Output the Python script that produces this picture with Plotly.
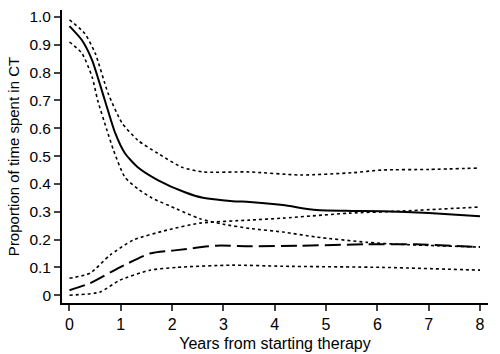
import plotly.graph_objects as go

# Proportion of time in CT (solid) with CI (dotted)
ct_years = [0.0, 0.24, 0.44, 0.69, 0.89, 1.08, 1.33, 1.72, 2.25, 2.6, 3.18, 3.51, 4.16, 4.81, 5.5, 6.1, 7.0, 8.0]
ct_mean = [0.967, 0.917, 0.845, 0.70, 0.583, 0.51, 0.46, 0.414, 0.37, 0.35, 0.338, 0.335, 0.324, 0.306, 0.303, 0.302, 0.295, 0.284]

ct_up_years = [0.0, 0.3, 0.5, 0.75, 1.02, 1.33, 1.72, 2.19, 2.6, 3.5, 4.5, 5.5, 6.1, 7.0, 8.0]
ct_upper = [0.99, 0.94, 0.87, 0.727, 0.62, 0.557, 0.51, 0.46, 0.443, 0.443, 0.432, 0.44, 0.45, 0.452, 0.457]

ct_lo_years = [0.0, 0.24, 0.44, 0.55, 0.73, 0.86, 1.08, 1.35, 1.6, 2.09, 2.54, 3.0, 3.51, 4.16, 4.81, 5.8, 6.4, 8.0]
ct_lower = [0.91, 0.87, 0.785, 0.70, 0.593, 0.52, 0.424, 0.38, 0.35, 0.31, 0.275, 0.255, 0.24, 0.227, 0.209, 0.19, 0.183, 0.173]

# Second series (dashed) with CI (dotted)
b_years = [0.0, 0.4, 0.98, 1.57, 2.09, 2.87, 3.51, 4.5, 5.8, 6.76, 8.0]
b_mean = [0.018, 0.043, 0.10, 0.15, 0.162, 0.178, 0.176, 0.178, 0.183, 0.183, 0.173]

b_up_years = [0.0, 0.4, 0.79, 1.24, 1.9, 2.54, 3.51, 4.16, 5.46, 6.43, 8.0]
b_upper = [0.061, 0.079, 0.144, 0.198, 0.234, 0.259, 0.27, 0.277, 0.295, 0.302, 0.317]

b_lo_years = [0.0, 0.59, 0.98, 1.57, 2.09, 3.18, 4.16, 6.1, 8.0]
b_lower = [0.0, 0.011, 0.054, 0.09, 0.10, 0.108, 0.104, 0.10, 0.09]

x_ticks = [0, 1, 2, 3, 4, 5, 6, 7, 8]
y_ticks = [0, 0.1, 0.2, 0.3, 0.4, 0.5, 0.6, 0.7, 0.8, 0.9, 1.0]
y_ticktext = ["0", "0.1", "0.2", "0.3", "0.4", "0.5", "0.6", "0.7", "0.8", "0.9", "1.0"]

fig = go.Figure()

def add(x, y, dash, width):
    fig.add_trace(go.Scatter(x=x, y=y, mode="lines",
                             line=dict(color="black", width=width, dash=dash, shape="spline", smoothing=0.6),
                             showlegend=False, hoverinfo="skip"))

add(ct_up_years, ct_upper, "dot", 1.6)
add(ct_lo_years, ct_lower, "dot", 1.6)
add(ct_years, ct_mean, "solid", 2)
add(b_up_years, b_upper, "dot", 1.6)
add(b_lo_years, b_lower, "dot", 1.6)
add(b_years, b_mean, "16px,6px", 2)

font = "Liberation Sans, Arial, sans-serif"
fig.update_layout(
    width=500, height=354,
    margin=dict(l=62, r=12, t=10, b=51),
    paper_bgcolor="white", plot_bgcolor="white",
    font=dict(family=font, size=15.5, color="black"),
    xaxis=dict(range=[-0.146, 8.156], tickvals=x_ticks, ticks="outside", ticklen=6, tickwidth=1.5,
               showline=True, linecolor="black", linewidth=1.8, showgrid=False, zeroline=False,
               automargin=False,
               title=dict(text="Years from starting therapy", standoff=6, font=dict(size=16)),
               tickfont=dict(size=16)),
    yaxis=dict(range=[-0.028, 1.025], tickvals=y_ticks, ticktext=y_ticktext, ticks="outside",
               ticklen=6, tickwidth=1.5, showline=True, linecolor="black", linewidth=1.8,
               showgrid=False, zeroline=False, automargin=False,
               title=dict(text="Proportion of time spent in CT", standoff=6, font=dict(size=15)),
               tickfont=dict(size=15.5)),
)

fig.write_html("out.html", config={"displayModeBar": False},
               post_script="document.body.style.margin='0';document.body.style.overflow='hidden';")
